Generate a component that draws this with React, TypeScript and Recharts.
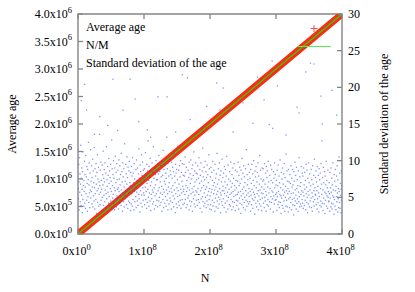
import React from 'react';
import { ComposedChart, Line, Scatter, XAxis, YAxis, ReferenceArea } from 'recharts';

const FONT = '"Liberation Serif", "Times New Roman", Times, serif';
const FRAME = '#858585';
const RED = '#ff2a10';
const GREEN = '#2ecc1a';
const BLUE = '#2f4df5';

// Axis ticks and labels
const X_TICKS = [0, 1e8, 2e8, 3e8, 4e8];
const X_TICK_LABELS = [['0', '0'], ['1', '8'], ['2', '8'], ['3', '8'], ['4', '8']];
const LEFT_TICKS = [0, 5e5, 1e6, 1.5e6, 2e6, 2.5e6, 3e6, 3.5e6, 4e6];
const LEFT_TICK_LABELS = [
  ['0.0', '0'], ['5.0', '5'], ['1.0', '6'], ['1.5', '6'], ['2.0', '6'],
  ['2.5', '6'], ['3.0', '6'], ['3.5', '6'], ['4.0', '6'],
];
const RIGHT_TICKS = [0, 5, 10, 15, 20, 25, 30];

// Average age and N/M (left axis)
const N_LINE = [0, 1e8, 2e8, 3e8, 4e8];
const AVERAGE_AGE = [0, 1e6, 2e6, 3e6, 4e6];
const N_OVER_M = [0, 1e6, 2e6, 3e6, 4e6];

// Standard deviation of the age (right axis), in tenths, sampled uniformly in N from 0 to 4x10^8
const STD_DEV_TENTHS = [
  62, 48, 95, 71, 33, 104, 57, 82, 44, 68, 121, 39, 76, 53, 90, 61, 29, 85, 47, 112, 66, 38, 73, 58, 99, 42, 81, 64, 35, 107, 55, 78, 46, 92, 69, 31, 88, 51, 74, 125, 43, 67, 97, 56, 36, 83, 60, 115, 49, 72,
  58, 93, 41, 77, 64, 102, 37, 86, 52, 70, 45, 118, 63, 34, 89, 55, 79, 47, 96, 68, 28, 84, 59, 108, 43, 75, 62, 91, 38, 71, 54, 136, 66, 40, 87, 57, 98, 46, 73, 61, 32, 94, 50, 81, 67, 113, 39, 76, 53, 88,
  71, 44, 97, 60, 36, 83, 55, 119, 48, 74, 65, 30, 92, 57, 80, 42, 103, 69, 51, 86, 38, 77, 62, 95, 45, 72, 58, 128, 35, 89, 66, 49, 81, 54, 100, 41, 76, 63, 33, 90, 59, 106, 47, 70, 84, 37, 96, 52, 74, 61,
  49, 87, 63, 34, 101, 58, 75, 42, 93, 67, 52, 81, 39, 110, 60, 46, 85, 71, 31, 97, 56, 78, 44, 89, 64, 37, 123, 53, 72, 48, 95, 59, 82, 40, 68, 105, 51, 77, 35, 91, 62, 45, 86, 57, 99, 43, 70, 65, 32, 84,
  66, 41, 92, 55, 79, 38, 104, 61, 47, 83, 70, 33, 96, 58, 75, 44, 184, 64, 51, 88, 36, 101, 57, 73, 45, 90, 62, 39, 82, 54, 116, 48, 76, 67, 30, 94, 59, 85, 42, 71, 108, 53, 80, 37, 98, 63, 46, 87, 56, 74,
  53, 89, 40, 77, 64, 111, 47, 82, 58, 35, 95, 69, 43, 86, 61, 127, 50, 73, 38, 92, 56, 79, 45, 103, 66, 32, 88, 54, 71, 48, 97, 60, 41, 84, 57, 119, 44, 76, 63, 34, 90, 52, 81, 67, 39, 100, 55, 74, 46, 87,
  74, 37, 96, 59, 82, 45, 107, 63, 50, 85, 39, 71, 56, 93, 43, 78, 65, 31, 99, 54, 80, 47, 114, 61, 36, 88, 57, 72, 42, 94, 68, 51, 83, 38, 76, 60, 132, 46, 89, 55, 33, 97, 64, 79, 41, 70, 58, 102, 49, 86,
  45, 81, 62, 34, 98, 57, 76, 43, 91, 66, 52, 85, 37, 109, 60, 48, 79, 70, 29, 95, 55, 83, 41, 88, 63, 36, 74, 51, 120, 59, 44, 87, 68, 39, 93, 53, 78, 46, 100, 61, 35, 84, 56, 72, 47, 96, 65, 40, 80, 58,
  61, 95, 42, 79, 54, 105, 47, 84, 66, 36, 91, 58, 73, 40, 213, 63, 49, 87, 52, 77, 33, 98, 60, 45, 82, 69, 38, 101, 55, 75, 44, 89, 62, 31, 94, 57, 80, 48, 112, 65, 41, 86, 53, 71, 37, 97, 59, 83, 46, 74,
  57, 82, 39, 93, 62, 47, 76, 54, 104, 43, 69, 88, 35, 80, 59, 97, 48, 72, 63, 30, 86, 51, 117, 44, 78, 66, 38, 91, 56, 74, 42, 99, 61, 50, 85, 36, 77, 64, 45, 94, 53, 81, 40, 70, 58, 108, 47, 89, 62, 34,
  52, 78, 40, 91, 57, 33, 84, 61, 46, 73, 99, 38, 66, 55, 87, 43, 70, 60, 31, 95, 49, 76, 64, 37, 82, 54, 110, 45, 68, 58, 35, 89, 50, 74, 41, 97, 62, 47, 80, 56, 29, 86, 53, 71, 44, 102, 59, 39, 77, 65,
  48, 83, 59, 36, 92, 55, 71, 42, 88, 63, 30, 79, 52, 106, 45, 67, 57, 34, 94, 50, 75, 168, 61, 40, 85, 54, 72, 38, 98, 47, 64, 56, 33, 81, 69, 44, 90, 58, 37, 76, 51, 96, 43, 66, 60, 32, 87, 53, 73, 46,
  63, 39, 85, 54, 72, 45, 98, 57, 34, 80, 66, 49, 91, 42, 69, 58, 28, 87, 52, 75, 40, 103, 61, 47, 83, 55, 36, 93, 64, 43, 78, 50, 70, 33, 89, 59, 46, 115, 53, 38, 81, 67, 44, 74, 56, 95, 41, 62, 51, 84,
  44, 76, 58, 31, 88, 53, 69, 40, 95, 61, 48, 82, 35, 73, 57, 100, 46, 66, 54, 27, 86, 50, 78, 42, 92, 63, 37, 71, 55, 84, 45, 97, 59, 33, 79, 52, 68, 41, 107, 60, 47, 87, 38, 75, 56, 64, 32, 90, 49, 72,
  55, 89, 42, 74, 61, 36, 96, 50, 68, 45, 83, 58, 31, 92, 53, 77, 40, 86, 64, 47, 99, 38, 71, 56, 149, 44, 80, 62, 34, 94, 51, 73, 43, 88, 59, 236, 48, 70, 57, 30, 85, 52, 76, 41, 97, 63, 46, 81, 54, 67,
  47, 73, 56, 32, 87, 51, 66, 40, 94, 58, 44, 79, 36, 70, 54, 101, 43, 63, 52, 28, 84, 49, 75, 39, 90, 60, 35, 68, 53, 82, 45, 96, 57, 31, 77, 50, 65, 38, 109, 59, 46, 86, 37, 72, 55, 62, 30, 88, 48, 71,
  58, 36, 81, 50, 69, 43, 93, 55, 33, 76, 64, 47, 88, 40, 67, 56, 26, 85, 49, 72, 39, 98, 60, 45, 80, 53, 34, 91, 62, 42, 74, 48, 66, 31, 86, 57, 44, 104, 51, 37, 78, 65, 41, 70, 54, 92, 38, 59, 47, 83,
  42, 79, 57, 35, 90, 52, 67, 39, 84, 61, 46, 73, 33, 95, 55, 64, 43, 87, 50, 29, 76, 58, 41, 97, 53, 70, 37, 82, 60, 45, 233, 66, 49, 88, 36, 74, 56, 31, 93, 51, 68, 44, 80, 59, 38, 102, 47, 63, 54, 77,
  53, 86, 40, 71, 59, 34, 92, 48, 65, 43, 80, 56, 30, 89, 51, 74, 39, 83, 62, 45, 96, 37, 68, 54, 127, 42, 77, 60, 32, 91, 49, 70, 41, 85, 57, 28, 79, 46, 67, 55, 99, 38, 73, 52, 63, 35, 87, 50, 58, 44,
  45, 70, 55, 31, 84, 49, 63, 37, 90, 57, 42, 76, 34, 67, 52, 97, 41, 60, 50, 27, 81, 47, 72, 38, 88, 59, 33, 65, 51, 79, 44, 93, 56, 30, 74, 48, 62, 36, 105, 58, 43, 83, 35, 69, 53, 61, 29, 86, 46, 66,
];

// Sparse high standard deviation points
const SPARSE_N = [
  0.05e8, 0.10e8, 0.13e8, 0.25e8, 0.33e8, 0.45e8, 0.53e8, 0.60e8, 0.68e8, 0.79e8,
  0.92e8, 1.05e8, 1.10e8, 1.21e8, 1.35e8, 1.48e8, 1.58e8, 1.70e8, 1.88e8, 1.95e8,
  2.10e8, 2.15e8, 2.20e8, 2.35e8, 2.50e8, 2.65e8, 2.72e8, 2.82e8, 2.95e8, 3.02e8,
  3.15e8, 3.32e8, 3.35e8, 3.45e8, 3.68e8, 3.70e8, 3.85e8, 3.92e8,
];
const SPARSE_STD = [
  18.2, 20.4, 16.9, 13.6, 16.0, 14.8, 21.1, 14.1, 16.9, 21.1,
  15.3, 14.2, 13.2, 18.7, 18.7, 13.9, 21.7, 15.6, 14.5, 17.4,
  20.6, 16.9, 19.9, 13.9, 17.9, 15.1, 21.4, 18.3, 14.4, 20.2,
  13.5, 17.3, 16.5, 22.1, 18.8, 15.0, 19.6, 16.2,
];

const N_MAX = 4e8;

const lineData = N_LINE.map((n, i) => ({ n, age: AVERAGE_AGE[i], nm: N_OVER_M[i] }));
const stdData = [
  ...STD_DEV_TENTHS.map((v, i) => ({ n: ((i + 0.5) * N_MAX) / STD_DEV_TENTHS.length, sd: v / 10 })),
  ...SPARSE_N.map((n, i) => ({ n, sd: SPARSE_STD[i] })),
];

const W = 415;
const H = 292;
const M_TOP = 14;
const X_AXIS_H = 58;
const LEFT_W = 78;
const RIGHT_W = 73;
const PLOT_H = H - M_TOP - X_AXIS_H;

const Sup = ({ base, exp }: { base: string; exp: string }) => (
  <>
    <tspan>{base}x10</tspan>
    <tspan dy={-5.5} fontSize={8.5}>{exp}</tspan>
  </>
);

const LeftTick = (props: any) => {
  const { x, y, payload } = props;
  const i = LEFT_TICKS.indexOf(payload.value);
  const lab = LEFT_TICK_LABELS[i] || ['', ''];
  return (
    <g>
      <line x1={x + 6} x2={x + 11} y1={y} y2={y} stroke={FRAME} strokeWidth={1.3} />
      <text x={x} y={y + 4} textAnchor="end" fontFamily={FONT} fontSize={12} fill="#000">
        <Sup base={lab[0]} exp={lab[1]} />
      </text>
    </g>
  );
};

const RightTick = (props: any) => {
  const { x, y, payload } = props;
  return (
    <g>
      <line x1={x - 6} x2={x - 11} y1={y} y2={y} stroke={FRAME} strokeWidth={1.3} />
      <text x={x} y={y + 4} textAnchor="start" fontFamily={FONT} fontSize={12} fill="#000">
        {String(payload.value)}
      </text>
    </g>
  );
};

const BottomTick = (props: any) => {
  const { x, y, payload } = props;
  const i = X_TICKS.indexOf(payload.value);
  const lab = X_TICK_LABELS[i] || ['', ''];
  return (
    <g>
      <line x1={x} x2={x} y1={y} y2={y - 5} stroke={FRAME} strokeWidth={1.3} />
      <line x1={x} x2={x} y1={y - PLOT_H} y2={y - PLOT_H + 5} stroke={FRAME} strokeWidth={1.3} />
      <text x={x - 1.5} y={y + 21} textAnchor="middle" fontFamily={FONT} fontSize={12} fill="#000">
        <Sup base={lab[0]} exp={lab[1]} />
      </text>
    </g>
  );
};

const Dot = (props: any) => {
  const { cx, cy } = props;
  if (cx == null || cy == null) return <g />;
  return <rect x={cx - 0.65} y={cy - 0.65} width={1.3} height={1.3} fill={BLUE} fillOpacity={0.6} />;
};

export default function App() {
  return (
    <div style={{ position: 'absolute', left: 0, top: 0, width: W, height: H, background: '#fff' }}>
      <ComposedChart
        width={W}
        height={H}
        margin={{ top: M_TOP, right: 0, bottom: 0, left: 0 }}
      >
        <XAxis
          dataKey="n"
          type="number"
          domain={[0, N_MAX]}
          ticks={X_TICKS}
          interval={0}
          height={X_AXIS_H}
          tickSize={0}
          tickMargin={0}
          axisLine={false}
          tick={(p: any) => <BottomTick {...p} />}
          allowDataOverflow
        />
        <YAxis
          yAxisId="left"
          type="number"
          domain={[0, 4e6]}
          ticks={LEFT_TICKS}
          interval={0}
          width={LEFT_W}
          tickSize={0}
          tickMargin={6}
          axisLine={false}
          tick={(p: any) => <LeftTick {...p} />}
          allowDataOverflow
        />
        <YAxis
          yAxisId="right"
          orientation="right"
          type="number"
          domain={[0, 30]}
          ticks={RIGHT_TICKS}
          interval={0}
          width={RIGHT_W}
          tickSize={0}
          tickMargin={6}
          axisLine={false}
          tick={(p: any) => <RightTick {...p} />}
          allowDataOverflow
        />
        <Scatter
          yAxisId="right"
          data={stdData}
          dataKey="sd"
          shape={(p: any) => <Dot {...p} />}
          isAnimationActive={false}
        />
        <Line
          yAxisId="left"
          data={lineData}
          dataKey="age"
          stroke={RED}
          strokeWidth={7}
          dot={false}
          activeDot={false}
          isAnimationActive={false}
        />
        <Line
          yAxisId="left"
          data={lineData}
          dataKey="nm"
          stroke={GREEN}
          strokeWidth={1.4}
          dot={false}
          activeDot={false}
          isAnimationActive={false}
        />
        <ReferenceArea
          yAxisId="left"
          x1={0}
          x2={N_MAX}
          y1={0}
          y2={4e6}
          fill="none"
          fillOpacity={0}
          stroke={FRAME}
          strokeWidth={1.4}
          ifOverflow="visible"
        />
      </ComposedChart>
      <svg
        width={W}
        height={H}
        style={{ position: 'absolute', left: 0, top: 0, pointerEvents: 'none' }}
      >
        <g fontFamily={FONT} fontSize={12} fill="#000">
          <text x={86} y={31}>Average age</text>
          <text x={86} y={48.5}>N/M</text>
          <text x={86} y={66.5}>Standard deviation of the age</text>
          <text x={16} y={M_TOP + PLOT_H / 2} textAnchor="middle" transform={`rotate(-90 16 ${M_TOP + PLOT_H / 2})`}>
            Average age
          </text>
          <text x={387.5} y={M_TOP + PLOT_H / 2} textAnchor="middle" transform={`rotate(-90 387.5 ${M_TOP + PLOT_H / 2})`}>
            Standard deviation of the age
          </text>
          <text x={205} y={282} textAnchor="middle">N</text>
        </g>
        <line x1={310.5} x2={317.5} y1={28.5} y2={28.5} stroke="#ff4a4a" strokeWidth={1} />
        <line x1={314} x2={314} y1={25} y2={32} stroke="#ff4a4a" strokeWidth={1} />
        <line x1={297} x2={331} y1={46.5} y2={46.5} stroke="#55ee55" strokeWidth={1.2} />
        <rect x={313.4} y={63.4} width={1.2} height={1.2} fill={BLUE} fillOpacity={0.6} />
      </svg>
    </div>
  );
}
